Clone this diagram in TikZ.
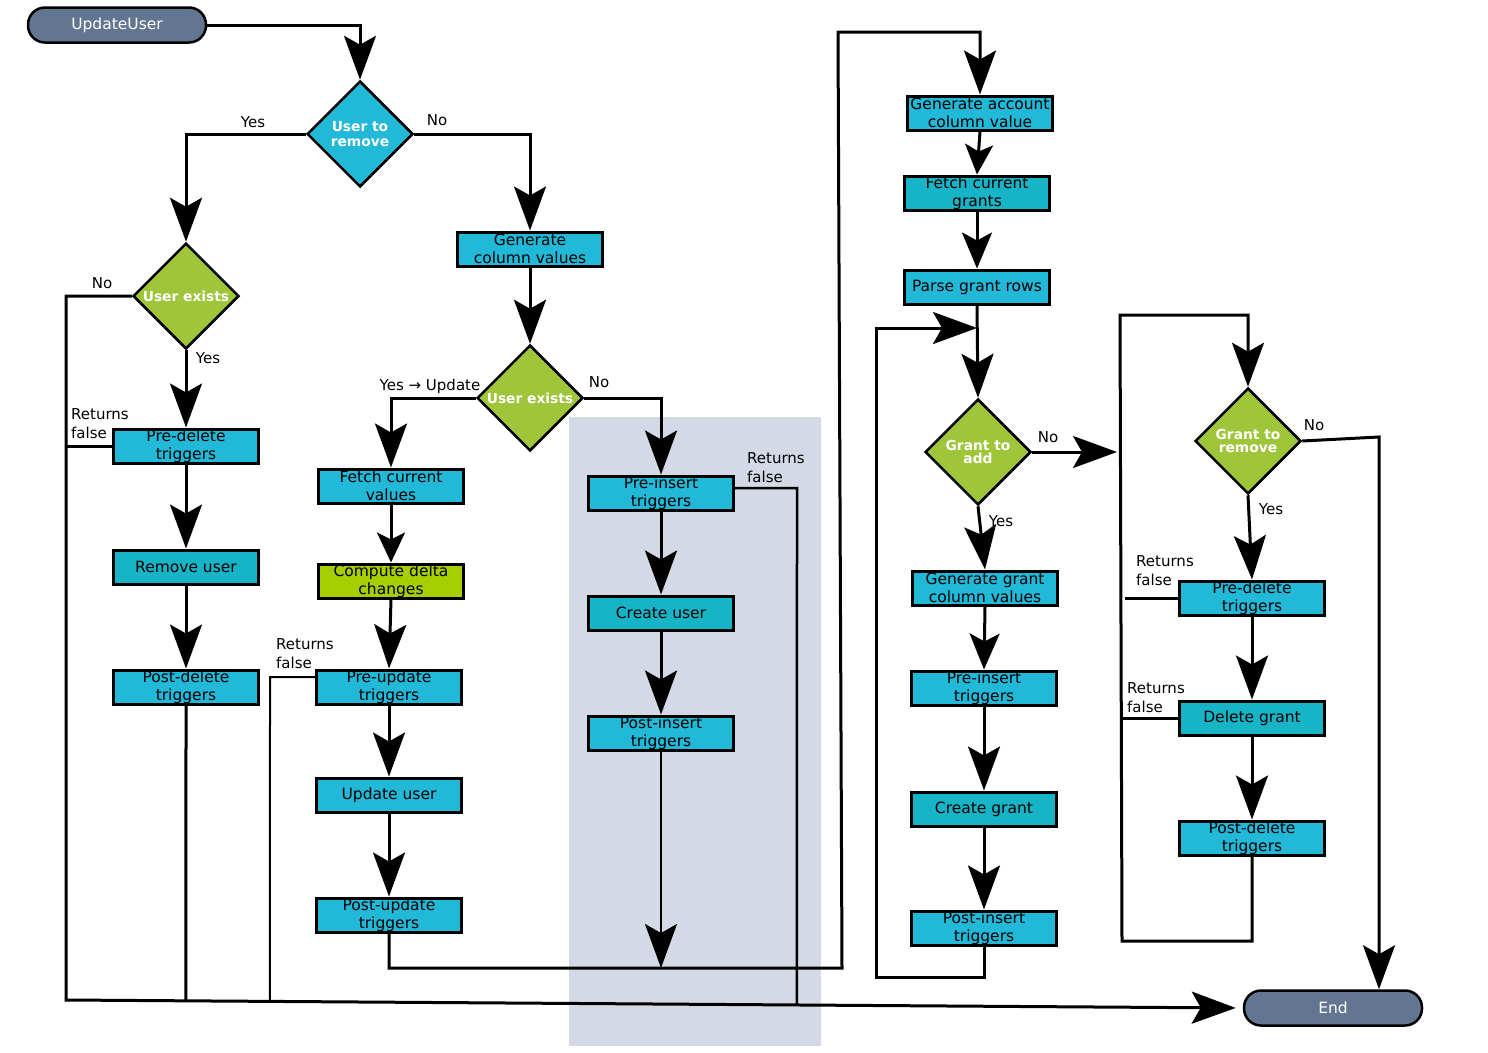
\documentclass[tikz,border=0pt]{standalone}
\usepackage{fontspec}
\setmainfont{DejaVu Sans}
\usetikzlibrary{shapes.geometric,arrows.meta,calc}
\definecolor{pillc}{HTML}{637691}
\definecolor{cyanb}{HTML}{22B8D8}
\definecolor{tealb}{HTML}{17B3C6}
\definecolor{limeb}{HTML}{A6CE00}
\definecolor{greend}{HTML}{9FC63B}
\definecolor{shadec}{HTML}{D3DAE5}
\begin{document}
\begin{tikzpicture}[x=1pt,y=-1pt,
  box/.style={draw, line width=3pt, fill=cyanb, minimum width=145pt, minimum height=34pt, inner sep=0pt, align=center, font=\fontsize{15.5}{18}\selectfont},
  dbox/.style={box, fill=tealb},
  dia/.style={diamond, draw, line width=2.5pt, fill=greend, minimum width=106pt, minimum height=106pt, inner sep=0pt, aspect=1, align=center, text=white, font=\fontsize{13.8}{13.5}\selectfont\bfseries},
  pill/.style={draw, line width=2.5pt, fill=pillc, rounded corners=17pt, minimum width=178pt, minimum height=35pt, inner sep=0pt, text=white, font=\fontsize{15.5}{18}\selectfont},
  conn/.style={line width=3pt},
  thinconn/.style={line width=2pt},
  arr/.style={conn, -{Stealth[length=44pt,width=32pt,inset=9pt]}},
  arrm/.style={conn, -{Stealth[length=36pt,width=30pt,inset=8pt]}},
  arrs/.style={conn, -{Stealth[length=30pt,width=28pt,inset=7pt]}},
  lbl/.style={font=\fontsize{15}{19}\selectfont, inner sep=0pt},
  rf/.style={lbl, anchor=north west, align=left}]
\useasboundingbox (0,0) rectangle (1488,1052);
\fill[shadec] (569,417) rectangle (821,1046);

% nodes
\node[pill] (start) at (117,25) {UpdateUser};
\node[dia, fill=cyanb, font=\fontsize{13.8}{15.5}\selectfont\bfseries] (utr) at (360,134) {User to\\remove};
\node[dia] (ue1) at (186,296) {User exists};
\node[box] (gcv) at (530,249) {Generate\\column values};
\node[dia] (ue2) at (530,398) {User exists};
\node[box] (pd1) at (186,446) {Pre-delete\\triggers};
\node[dbox] (ru) at (186,567) {Remove user};
\node[box] (pdt1) at (186,687) {Post-delete\\triggers};
\node[box] (fcv) at (391,486) {Fetch current\\values};
\node[box, fill=limeb] (cdc) at (391,581) {Compute delta\\changes};
\node[box] (pu) at (389,687) {Pre-update\\triggers};
\node[box] (uu) at (389,795) {Update user};
\node[box] (pou) at (389,915) {Post-update\\triggers};
\node[box] (pi1) at (661,493) {Pre-insert\\triggers};
\node[dbox] (cu) at (661,613) {Create user};
\node[box] (poi1) at (661,733) {Post-insert\\triggers};
\node[box] (gac) at (980,113) {Generate account\\column value};
\node[dbox] (fcg) at (977,193) {Fetch current\\grants};
\node[box] (pgr) at (977,287) {Parse grant rows};
\node[dia] (gta) at (978,452) {Grant to\\add};
\node[box] (ggc) at (985,588) {Generate grant\\column values};
\node[box] (pi2) at (984,688) {Pre-insert\\triggers};
\node[dbox] (cg) at (984,809) {Create grant};
\node[box] (poi2) at (984,928) {Post-insert\\triggers};
\node[dia] (gtr) at (1248,441) {Grant to\\remove};
\node[box] (pd2) at (1252,598) {Pre-delete\\triggers};
\node[dbox] (dg) at (1252,718) {Delete grant};
\node[box] (pdt2) at (1252,838) {Post-delete\\triggers};
\node[pill] (end) at (1333,1008) {End};

% coordinates
\coordinate (bl) at (66,1000);
\coordinate (j1) at (842,968);
\coordinate (j2) at (838,32);
\coordinate (c1) at (876,977);
\coordinate (m1) at (977,328);
\coordinate (m2) at (1117,452);
\coordinate (c2) at (1122,941);
\coordinate (c3) at (1120,315);
\coordinate (c4) at (1379,437);
\coordinate (c5) at (1125,598);
\coordinate (v2) at (270,677);
\coordinate (v2b) at (270,1040);
\coordinate (v3) at (797,488);
\coordinate (v3b) at (797,1040);

% connectors
\draw[arr] (start.east) -| (utr.north);
\draw[arr] (utr.west) -| (ue1.north);
\draw[arr] (utr.east) -| (gcv.north);
\draw[arr, shorten >=7pt] (ue1.west) -| (bl) -- (end.west);
\draw[arr] (ue1.south) -- (pd1.north);
\draw[conn] (pd1.west) -- (pd1.west -| bl);
\draw[arr] (pd1.south) -- (ru.north);
\draw[arr] (ru.south) -- (pdt1.north);
\draw[conn] (pdt1.south) -- (intersection of bl--end.west and pdt1.south--pdt1.north);

\draw[arr] (gcv.south) -- (ue2.north);
\draw[arr] (ue2.west) -| (fcv.north);
\draw[arr] (ue2.east) -| (pi1.north);
\draw[arrs] (fcv.south) -- (cdc.north);
\draw[arr] (cdc.south) -- (pu.north);
\draw[arr] (pu.south) -- (uu.north);
\draw[arr] (uu.south) -- (pou.north);
\draw[thinconn] ($(pu.west)+(0,-10)$) -- (v2) -- (intersection of bl--end.west and v2--v2b);
\draw[arr] (pou.south) |- (j1) -- (j2) -| (gac.north);

\draw[arr] (pi1.south) -- (cu.north);
\draw[arr] (cu.south) -- (poi1.north);
\draw[thinconn, -{Stealth[length=44pt,width=32pt,inset=9pt]}] (poi1.south) -- (poi1.south |- j1);
\draw[line width=2.5pt] ($(pi1.east)+(0,-5)$) -- (v3) -- (intersection of bl--end.west and v3--v3b);

\draw[arrs] (gac.south) -- (fcg.north);
\draw[arrm] (fcg.south) -- (pgr.north);
\draw[arr] (pgr.south) -- (gta.north);
\draw[arr] (poi2.south) |- (c1) |- (m1);
\draw[arr] (gta.east) -- (m2);
\draw[arr] (gta.south) -- (ggc.north);
\draw[arrm] (ggc.south) -- (pi2.north);
\draw[arr] (pi2.south) -- (cg.north);
\draw[arr] (cg.south) -- (poi2.north);

\draw[arr] (pdt2.south) |- (c2) -- (c3) -| (gtr.north);
\draw[arr] (gtr.east) -- (c4) -- (c4 |- end.north);
\draw[arr] (gtr.south) -- (pd2.north);
\draw[arr] (pd2.south) -- (dg.north);
\draw[arr] (dg.south) -- (pdt2.north);
\draw[conn] (pd2.west) -- (c5);
\draw[conn] (dg.west) -- (dg.west -| c2);

% labels
\node[lbl] (l1) at (253,122) {Yes};
\node[lbl] (l2) at (437,120) {No};
\node[lbl] (l3) at (102,283) {No};
\node[lbl] (l4) at (208,358) {Yes};
\node[rf] (l5) at (71,408) {Returns\\false};
\node[lbl] (l6) at (430,386) {Yes → Update};
\node[lbl] (l7) at (599,382) {No};
\node[rf] (l8) at (276,638) {Returns\\false};
\node[rf] (l9) at (747,452) {Returns\\false};
\node[lbl] (l10) at (1048,437) {No};
\node[lbl] (l11) at (1001,521) {Yes};
\node[lbl] (l12) at (1314,425) {No};
\node[lbl] (l13) at (1271,509) {Yes};
\node[rf] (l14) at (1136,555) {Returns\\false};
\node[rf] (l15) at (1127,682) {Returns\\false};
\end{tikzpicture}
\end{document}
